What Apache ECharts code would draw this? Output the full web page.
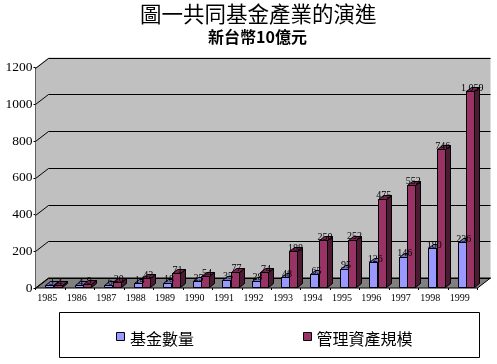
<!DOCTYPE html>
<html>
<head>
<meta charset="utf-8">
<style>html,body{margin:0;padding:0;background:#fff}#chart{width:497px;height:364px}</style>
<script src="https://cdn.jsdelivr.net/npm/echarts@6/dist/echarts.min.js"></script>
</head>
<body>
<div id="chart"></div>
<script>
var titleText = '圖一共同基金產業的演進';
var subText = '新台幣10億元';
var years = ['1985','1986','1987','1988','1989','1990','1991','1992','1993','1994','1995','1996','1997','1998','1999'];
var fundCount = [3,4,6,14,18,25,35,28,48,65,95,128,160,205,240];
var fundAssets = [4,9,20,42,71,54,77,74,188,250,252,475,552,746,1059];
var fundCountLabels = ['3','4','6','14','18','25','35','28','48','65','95','126','146','180','236'];
var fundAssetsLabels = ['4','9','20','42','71','54','77','74','188','250','252','475','552','746','1,059'];
var yTicks = [0,200,400,600,800,1000,1200];
var serif = '"Liberation Serif","Noto Sans CJK TC",serif';
var cjkSans = '"Noto Sans CJK TC",sans-serif';

var chart = echarts.init(document.getElementById('chart'), null, {renderer: 'canvas'});
var wallDx = 13, wallDy = -10;   // depth of the chart box
var barDx = 5, barDy = -4;       // depth of one bar
var barW = 8;

function crisp(v) {
    return Math.round(v) + 0.5;
}

function poly(points, fill, noStroke) {
    return {type: 'polygon', shape: {points: points},
        style: {fill: fill, stroke: noStroke ? null : '#000', lineWidth: 1}};
}

// back wall, floor and grid lines
function renderWall(params, api) {
    var rect = params.coordSys;
    var left = rect.x, right = rect.x + rect.width;
    var top = rect.y, bottom = rect.y + rect.height;
    var kids = [
        poly([[left, top],[left + wallDx, top + wallDy],[right + wallDx, top + wallDy],[right + wallDx, bottom + wallDy],[right, bottom],[left, bottom]], '#c0c0c0', true),
        poly([[left, bottom],[left + wallDx, bottom + wallDy],[right + wallDx, bottom + wallDy],[right, bottom]], '#808080')
    ];
    yTicks.forEach(function (t) {
        var y = crisp(api.coord([0, t])[1]);
        kids.push({type: 'polyline', shape: {points: [[left, y],[left + wallDx, y + wallDy],[right + wallDx, y + wallDy]]},
            style: {stroke: '#000', lineWidth: 1, fill: null}});
    });
    return {type: 'group', children: kids};
}

function bar3d(shift, front, top, side) {
    return function (params, api) {
        var c = api.coord([api.value(0), api.value(1)]);
        var b = api.coord([api.value(0), 0]);
        var x0 = crisp(c[0] + shift), x1 = x0 + barW;
        var yT = crisp(c[1] - 2), yB = crisp(b[1] - 1);
        return {type: 'group', children: [
            poly([[x1, yT],[x1 + barDx, yT + barDy],[x1 + barDx, yB + barDy],[x1, yB]], side),
            poly([[x0, yT],[x0 + barDx, yT + barDy],[x1 + barDx, yT + barDy],[x1, yT]], top),
            poly([[x0, yT],[x1, yT],[x1, yB],[x0, yB]], front)
        ]};
    };
}

function labelItem(shift, labels) {
    return function (params, api) {
        var c = api.coord([api.value(0), api.value(1)]);
        return {type: 'text', x: c[0] + shift + barW / 2 + 2, y: c[1],
            style: {text: labels[params.dataIndex], fill: '#000', align: 'center', verticalAlign: 'bottom',
                font: '10px ' + serif}};
    };
}

var option = {
    animation: false,
    backgroundColor: '#fff',
    title: [
        {text: titleText, left: 140, top: 3, padding: 0,
            textStyle: {fontFamily: cjkSans, fontSize: 21.5, fontWeight: 'normal', color: '#000'}},
        {text: subText, left: 208, top: 29, padding: 0,
            textStyle: {fontFamily: cjkSans, fontSize: 16, fontWeight: 'bold', color: '#000'}}
    ],
    grid: {left: 35.5, top: 67.5, width: 442, height: 220.5},
    xAxis: {type: 'category', data: years,
        axisLine: {show: false},
        axisTick: {show: true, length: 2, alignWithLabel: false, lineStyle: {color: '#000'}},
        axisLabel: {interval: 0, margin: 5, padding: [0, 6, 0, 0], fontFamily: serif, fontSize: 10, color: '#000'}},
    yAxis: {type: 'value', min: 0, max: 1200, interval: 200,
        axisLine: {show: true, lineStyle: {color: '#000'}},
        axisTick: {show: true, length: 2, lineStyle: {color: '#000'}},
        splitLine: {show: false},
        axisLabel: {margin: 3, fontFamily: serif, fontSize: 13.5, color: '#000',
            formatter: function (v) { return String(v); }}},
    legend: {show: false},
    graphic: [
        {type: 'rect', shape: {x: 59.5, y: 312.5, width: 420, height: 45}, style: {fill: '#fff', stroke: '#000', lineWidth: 1}},
        {type: 'rect', shape: {x: 116.5, y: 332.5, width: 8, height: 8}, style: {fill: '#9999ff', stroke: '#000', lineWidth: 1}},
        {type: 'text', x: 130, y: 339, style: {text: '基金數量', fill: '#000', font: '16px ' + cjkSans, verticalAlign: 'middle'}},
        {type: 'rect', shape: {x: 303.5, y: 332.5, width: 8, height: 8}, style: {fill: '#993366', stroke: '#000', lineWidth: 1}},
        {type: 'text', x: 316.5, y: 339, style: {text: '管理資產規模', fill: '#000', font: '16px ' + cjkSans, verticalAlign: 'middle'}}
    ],
    series: [
        {type: 'custom', renderItem: renderWall, data: [[0, 0]], z: 1, silent: true},
        {type: 'custom', name: '基金數量', renderItem: bar3d(-5, '#9999ff', '#7373bf', '#4d4d80'),
            data: fundCount.map(function (v, i) { return [i, v]; }), z: 2},
        {type: 'custom', name: '管理資產規模', renderItem: bar3d(3.5, '#993366', '#732650', '#4d1a33'),
            data: fundAssets.map(function (v, i) { return [i, v]; }), z: 3},
        {type: 'custom', renderItem: labelItem(-5, fundCountLabels),
            data: fundCount.map(function (v, i) { return [i, v]; }), z: 4},
        {type: 'custom', renderItem: labelItem(3.5, fundAssetsLabels),
            data: fundAssets.map(function (v, i) { return [i, v]; }), z: 4}
    ]
};
chart.setOption(option);
</script>
</body>
</html>
